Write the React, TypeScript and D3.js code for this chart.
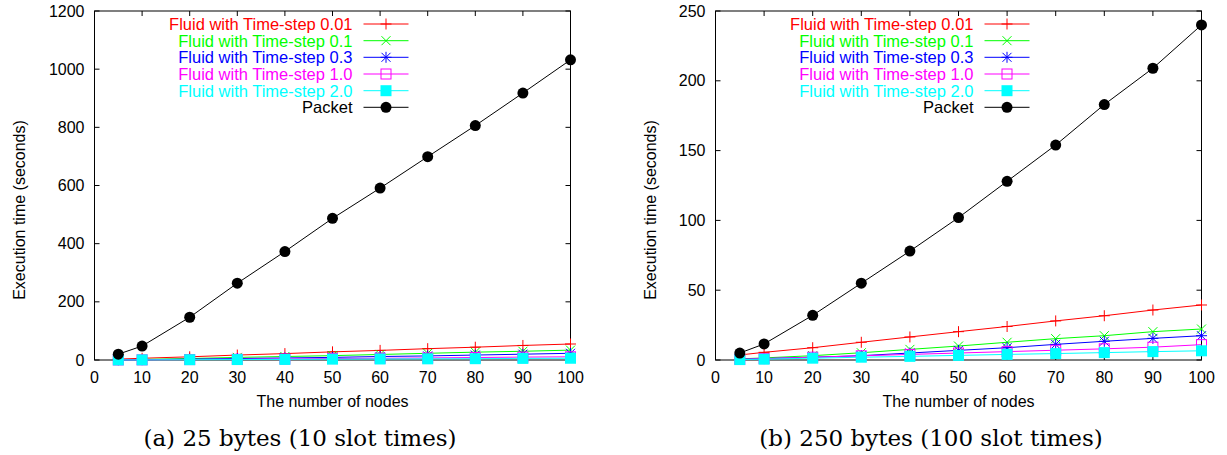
import React from "react";
import * as d3 from "d3";

const nodes = [5, 10, 20, 30, 40, 50, 60, 70, 80, 90, 100];
const xTicks = [0, 10, 20, 30, 40, 50, 60, 70, 80, 90, 100];

const seriesNames = [
  "Fluid with Time-step 0.01",
  "Fluid with Time-step 0.1",
  "Fluid with Time-step 0.3",
  "Fluid with Time-step 1.0",
  "Fluid with Time-step 2.0",
  "Packet",
];
const seriesColors = ["#ff0000", "#00ff00", "#0000ff", "#ff00ff", "#00ffff", "#000000"];
const seriesMarkers = ["plus", "cross", "star", "openSquare", "filledSquare", "circle"];

// (a) 25 bytes
const aFluid001 = [3, 6, 11, 17, 22, 28, 33, 39, 44, 50, 55];
const aFluid01 = [1, 2, 5, 9, 12, 15, 19, 23, 27, 30, 34];
const aFluid03 = [0.5, 1, 3, 5, 7, 9, 12, 14, 17, 20, 23];
const aFluid10 = [0.3, 0.6, 1.5, 2.5, 3.5, 5, 6, 7, 8.5, 10, 11];
const aFluid20 = [0.2, 0.4, 1, 1.5, 2, 3, 3.5, 4, 4.5, 5.5, 6];
const aPacket = [20, 48, 147, 264, 373, 487, 591, 699, 806, 918, 1032];
const aYTicks = [0, 200, 400, 600, 800, 1000, 1200];

// (b) 250 bytes
const bFluid001 = [3.6, 5.5, 8.8, 12.7, 16.5, 20.3, 24, 28, 31.7, 35.8, 39.4];
const bFluid01 = [0.8, 1.5, 3.1, 5.2, 7.6, 10, 12.7, 15.3, 17.4, 20.3, 22.2];
const bFluid03 = [0.5, 1, 2, 3.1, 5, 6.9, 8.8, 11.2, 13.4, 15.5, 17.4];
const bFluid10 = [0.5, 1, 2, 3, 4, 5, 6, 7, 8, 9.2, 11];
const bFluid20 = [0.3, 0.6, 1.3, 2, 2.6, 3.3, 4, 4.6, 5.3, 6, 6.6];
const bPacket = [5, 11.5, 32, 55, 78, 102, 128, 154, 183, 209, 240];
const bYTicks = [0, 50, 100, 150, 200, 250];

const SANS = "'Liberation Sans', Arial, Helvetica, sans-serif";
const SERIF = "'DejaVu Serif', 'Liberation Serif', serif";

function Marker({ kind, x, y, color }: { kind: string; x: number; y: number; color: string }) {
  const s = 5.5;
  const c = 4.5;
  if (kind === "plus")
    return (
      <g stroke={color} strokeWidth={1}>
        <line x1={x - s} x2={x + s} y1={y} y2={y} />
        <line x1={x} x2={x} y1={y - s} y2={y + s} />
      </g>
    );
  if (kind === "cross")
    return (
      <g stroke={color} strokeWidth={1}>
        <line x1={x - c} x2={x + c} y1={y - c} y2={y + c} />
        <line x1={x - c} x2={x + c} y1={y + c} y2={y - c} />
      </g>
    );
  if (kind === "star")
    return (
      <g stroke={color} strokeWidth={1}>
        <line x1={x - s} x2={x + s} y1={y} y2={y} />
        <line x1={x} x2={x} y1={y - s} y2={y + s} />
        <line x1={x - c} x2={x + c} y1={y - c} y2={y + c} />
        <line x1={x - c} x2={x + c} y1={y + c} y2={y - c} />
      </g>
    );
  if (kind === "openSquare")
    return <rect x={x - 5} y={y - 5} width={10} height={10} fill="none" stroke={color} strokeWidth={1} />;
  if (kind === "filledSquare")
    return <rect x={x - 5.5} y={y - 5.5} width={11} height={11} fill={color} />;
  return <circle cx={x} cy={y} r={5.5} fill={color} />;
}

function Panel({
  x0,
  x1,
  series,
  yTicks,
  yMax,
  caption,
  captionX,
  ylabelX,
}: {
  x0: number;
  x1: number;
  series: number[][];
  yTicks: number[];
  yMax: number;
  caption: string;
  captionX: number;
  ylabelX: number;
}) {
  const yTop = 11;
  const yBot = 360;
  const x = d3.scaleLinear().domain([0, 100]).range([x0, x1]);
  const y = d3.scaleLinear().domain([0, yMax]).range([yBot, yTop]);
  const line = d3
    .line<number>()
    .x((_, i) => x(nodes[i]))
    .y((d) => y(d));
  const tl = 5;
  const legX = x0 + 258;
  const legRows = [24, 40.7, 57.3, 74, 90.7, 107.3];
  return (
    <g>
      <rect x={x0} y={yTop} width={x1 - x0} height={yBot - yTop} fill="none" stroke="#000" strokeWidth={1} />
      {yTicks.map((t) => (
        <g key={"y" + t}>
          <line x1={x0} x2={x0 + tl} y1={y(t)} y2={y(t)} stroke="#000" />
          <line x1={x1} x2={x1 - tl} y1={y(t)} y2={y(t)} stroke="#000" />
          <text x={x0 - 10} y={y(t) + 5.5} textAnchor="end" fontFamily={SANS} fontSize={16} fill="#000">
            {t}
          </text>
        </g>
      ))}
      {xTicks.map((t) => (
        <g key={"x" + t}>
          <line x1={x(t)} x2={x(t)} y1={yBot} y2={yBot - tl} stroke="#000" />
          <line x1={x(t)} x2={x(t)} y1={yTop} y2={yTop + tl} stroke="#000" />
          <text x={x(t)} y={yBot + 23} textAnchor="middle" fontFamily={SANS} fontSize={16} fill="#000">
            {t}
          </text>
        </g>
      ))}
      {series.map((vals, si) => (
        <g key={"s" + si}>
          <path d={line(vals) || ""} fill="none" stroke={seriesColors[si]} strokeWidth={1} />
          {vals.map((v, i) => (
            <Marker key={i} kind={seriesMarkers[si]} x={x(nodes[i])} y={y(v)} color={seriesColors[si]} />
          ))}
        </g>
      ))}
      {seriesNames.map((name, si) => (
        <g key={"l" + si}>
          <text
            x={legX}
            y={legRows[si] + 6}
            textAnchor="end"
            fontFamily={SANS}
            fontSize={16.5}
            fill={seriesColors[si]}
          >
            {name}
          </text>
          <line x1={legX + 11} x2={legX + 56} y1={legRows[si]} y2={legRows[si]} stroke={seriesColors[si]} strokeWidth={1} />
          <Marker kind={seriesMarkers[si]} x={legX + 33.5} y={legRows[si]} color={seriesColors[si]} />
        </g>
      ))}
      <text x={(x0 + x1) / 2} y={407} textAnchor="middle" fontFamily={SANS} fontSize={16} fill="#000">
        The number of nodes
      </text>
      <text
        transform={`translate(${ylabelX},${210}) rotate(-90)`}
        textAnchor="middle"
        fontFamily={SANS}
        fontSize={16}
        fill="#000"
      >
        Execution time (seconds)
      </text>
      <text x={captionX} y={446} textAnchor="middle" fontFamily={SERIF} fontSize={23} fill="#000">
        {caption}
      </text>
    </g>
  );
}

export default function App() {
  const aSeries = [aFluid001, aFluid01, aFluid03, aFluid10, aFluid20, aPacket];
  const bSeries = [bFluid001, bFluid01, bFluid03, bFluid10, bFluid20, bPacket];
  return (
    <svg width={1227} height={455} style={{ position: "absolute", left: 0, top: 0, background: "#fff" }}>
      <rect width={1227} height={455} fill="#fff" />
      <Panel
        x0={94.5}
        x1={570.5}
        series={aSeries}
        yTicks={aYTicks}
        yMax={1200}
        caption="(a) 25 bytes (10 slot times)"
        captionX={300}
        ylabelX={25}
      />
      <Panel
        x0={715.5}
        x1={1201.5}
        series={bSeries}
        yTicks={bYTicks}
        yMax={250}
        caption="(b) 250 bytes (100 slot times)"
        captionX={931}
        ylabelX={656}
      />
    </svg>
  );
}
